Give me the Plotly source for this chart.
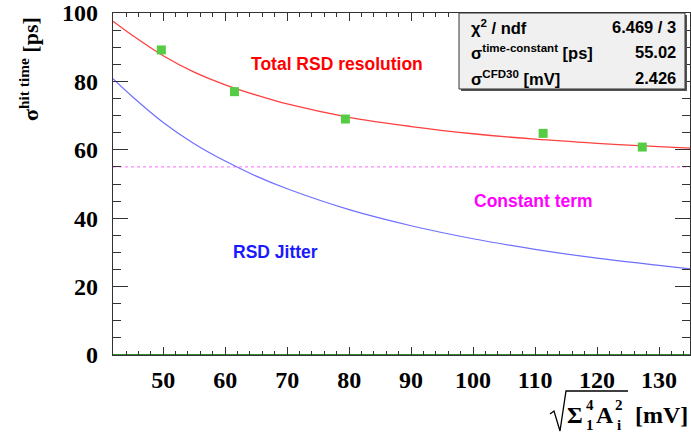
import plotly.graph_objects as go

# measured points
amp_x = [49.7, 61.5, 79.4, 111.3, 127.3]
sigma_y = [89.2, 77.0, 69.0, 64.8, 60.8]

# fitted curves
curve_x = [41.9, 45, 50, 55, 60, 65, 70, 80, 90, 100, 110, 120, 130, 135.0]
total_y = [97.6, 93.5, 87.5, 82.7, 79.0, 76.0, 73.4, 69.5, 66.8, 64.7, 63.1, 61.9, 60.9, 60.5]
jitter_y = [80.8, 75.6, 68.0, 61.8, 56.7, 52.3, 48.6, 42.5, 37.8, 34.0, 30.9, 28.3, 26.2, 25.2]
const_x = [41.9, 135.0]
const_y = [55.02, 55.02]
zero_y = [0, 0]

x_range = [41.9, 135.0]
y_range = [0, 100]
x_ticks = [50, 60, 70, 80, 90, 100, 110, 120, 130]
y_ticks = [0, 20, 40, 60, 80, 100]

stat_names = ["χ<sup>2</sup> / ndf", "σ<sup>time-constant</sup> [ps]", "σ<sup>CFD30</sup> [mV]"]
stat_values = ["6.469 / 3", "55.02", "2.426"]

# figure geometry (pixels)
W, H = 691, 434
ML, MR, MT, MB = 113, 1, 13, 79
PW, PH = W - ML - MR, H - MT - MB


def px(xp):
    return (xp - ML) / PW


def py(yp):
    return (H - MB - yp) / PH


fig = go.Figure()
fig.add_trace(go.Scatter(x=const_x, y=const_y, mode="lines",
                         line=dict(color="#ff88ff", width=1.2, dash="dot"), hoverinfo="skip"))
fig.add_trace(go.Scatter(x=curve_x, y=jitter_y, mode="lines", line_shape="spline",
                         line=dict(color="#6f6fff", width=1.2)))
fig.add_trace(go.Scatter(x=curve_x, y=total_y, mode="lines", line_shape="spline",
                         line=dict(color="#ff4040", width=1.3)))
fig.add_trace(go.Scatter(x=const_x, y=zero_y, mode="lines",
                         line=dict(color="#2e8b2e", width=2)))
fig.add_trace(go.Scatter(x=amp_x, y=sigma_y, mode="markers",
                         marker=dict(symbol="square", size=9, color="#55cc44", line=dict(width=0))))
# carrier for mirrored (top/right) tick axes
fig.add_trace(go.Scatter(x=const_x, y=y_range, mode="markers", xaxis="x2", yaxis="y2",
                         marker=dict(size=1, opacity=0), hoverinfo="skip"))

axcol = "#333333"
tickfont = dict(family="Liberation Serif", size=24, color="black", weight="bold")
xcommon = dict(range=x_range, tickmode="array", tickvals=x_ticks,
               ticks="inside", ticklen=8, tickcolor=axcol, tickwidth=1.2,
               showgrid=False, zeroline=False,
               minor=dict(dtick=2, tick0=0, ticks="inside", ticklen=4, tickcolor=axcol,
                          tickwidth=1.2, showgrid=False))
ycommon = dict(range=y_range, tickmode="array", tickvals=y_ticks,
               ticks="inside", ticklen=15, tickcolor=axcol, tickwidth=1.2,
               showgrid=False, zeroline=False,
               minor=dict(dtick=5, tick0=0, ticks="inside", ticklen=8, tickcolor=axcol,
                          tickwidth=1.2, showgrid=False))

fig.update_layout(
    xaxis=dict(**xcommon, showline=True, linecolor=axcol, linewidth=1.2, mirror=True,
               tickfont=tickfont, ticklabelstandoff=3),
    yaxis=dict(**ycommon, showline=True, linecolor=axcol, linewidth=1.2, mirror=True,
               tickfont=tickfont, ticklabelstandoff=9),
    xaxis2=dict(**xcommon, overlaying="x", side="top", showticklabels=False, anchor="y2"),
    yaxis2=dict(**ycommon, overlaying="y", side="right", showticklabels=False, anchor="x2"),
)

lab = dict(family="Liberation Sans", size=17.5, weight="bold")
tfont = dict(family="Liberation Serif", size=24, color="black", weight="bold")
sfont = dict(family="Liberation Serif", size=15, color="black", weight="bold")
annotations = [
    dict(x=78.1, y=85.0, xref="x", yref="y", text="Total RSD resolution",
         showarrow=False, font=dict(color="#ff0000", **lab)),
    dict(x=109.7, y=45.0, xref="x", yref="y", text="Constant term",
         showarrow=False, font=dict(color="#ff00ff", **lab)),
    dict(x=68.1, y=30.0, xref="x", yref="y", text="RSD Jitter",
         showarrow=False, font=dict(color="#1a1aff", **lab)),
    dict(x=px(29), y=py(15), xref="paper", yref="paper", xanchor="center", yanchor="top",
         text="σ<sup>hit time</sup> [ps]", textangle=-90, showarrow=False,
         font=dict(family="Liberation Serif", size=22, color="black", weight="bold")),
    # x title: sqrt( Sum_1^4 A_i^2 ) [mV]
    dict(x=px(575), y=py(415), xref="paper", yref="paper", xanchor="center", yanchor="middle",
         text="Σ", showarrow=False, font=tfont),
    dict(x=px(590), y=py(405), xref="paper", yref="paper", xanchor="center", yanchor="middle",
         text="4", showarrow=False, font=sfont),
    dict(x=px(590), y=py(425), xref="paper", yref="paper", xanchor="center", yanchor="middle",
         text="1", showarrow=False, font=sfont),
    dict(x=px(605), y=py(415), xref="paper", yref="paper", xanchor="center", yanchor="middle",
         text="A", showarrow=False, font=tfont),
    dict(x=px(619), y=py(405), xref="paper", yref="paper", xanchor="center", yanchor="middle",
         text="2", showarrow=False, font=sfont),
    dict(x=px(619), y=py(425), xref="paper", yref="paper", xanchor="center", yanchor="middle",
         text="i", showarrow=False, font=sfont),
    dict(x=px(690), y=py(415), xref="paper", yref="paper", xanchor="right", yanchor="middle",
         text="[mV]", showarrow=False, font=tfont),
]
row_y = [27, 52, 78]
for name, val, yy in zip(stat_names, stat_values, row_y):
    annotations.append(dict(x=px(469), y=py(yy), xref="paper", yref="paper", xanchor="left",
                            yanchor="middle", text=name, showarrow=False,
                            font=dict(family="Liberation Sans", size=16.5, color="black",
                                      weight="bold")))
    annotations.append(dict(x=px(678), y=py(yy), xref="paper", yref="paper", xanchor="right",
                            yanchor="middle", text=val, showarrow=False,
                            font=dict(family="Liberation Sans", size=16.5, color="black",
                                      weight="bold")))

rad = [(550, 414), (554, 411), (560, 431), (566, 391), (628, 391)]
rad_path = "M " + " L ".join(f"{px(a):.5f},{py(b):.5f}" for a, b in rad)

shapes = [
    dict(type="rect", xref="paper", yref="paper", x0=px(461), x1=px(687), y0=py(91), y1=py(15),
         fillcolor="#555555", line=dict(width=0), layer="above"),
    dict(type="rect", xref="paper", yref="paper", x0=px(459), x1=px(685), y0=py(89), y1=py(13),
         fillcolor="#f0f0f0", line=dict(color="#333333", width=1), layer="above"),
    dict(type="path", xref="paper", yref="paper", path=rad_path,
         line=dict(color="black", width=1.3)),
]

fig.update_layout(width=W, height=H, margin=dict(l=ML, r=MR, t=MT, b=MB),
                  plot_bgcolor="white", paper_bgcolor="white", showlegend=False,
                  annotations=annotations, shapes=shapes)
fig.write_html("out.html")
